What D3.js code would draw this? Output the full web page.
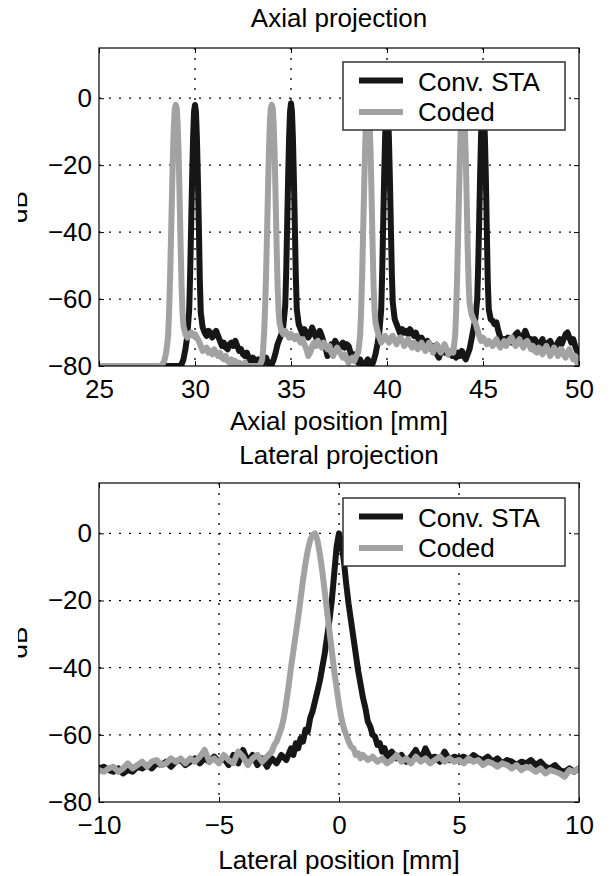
<!DOCTYPE html>
<html>
<head>
<meta charset="utf-8">
<script src="https://cdn.jsdelivr.net/npm/d3@7"></script>
<style>
  html, body { margin: 0; padding: 0; background: #fff; }
  svg { display: block; font-family: "Liberation Sans", Arial, Helvetica, sans-serif; }
</style>
</head>
<body>
<div id="chart"></div>
<script>
// ---- data: [position mm, level dB] ----
const axialConv = [
  [25,-80],[29.2,-80],[29.3,-79.5],[29.4,-78],[29.5,-75],[29.6,-71],[29.7,-63],[29.75,-52],[29.8,-38],[29.85,-24],[29.9,-12],[29.95,-4],[30,-2],[30.05,-4],[30.1,-12],[30.15,-24],[30.2,-38],[30.25,-54],[30.3,-64],[30.4,-68.5],
  [30.5,-70],[30.6,-71],[30.7,-69.5],[30.8,-70],[30.9,-71.5],[31,-70.5],[31.1,-69.5],[31.2,-71],[31.3,-72.5],[31.4,-74],[31.5,-73],[31.6,-74.5],[31.7,-75],[31.8,-73.5],[31.9,-73],[32,-74],[32.1,-72.5],[32.2,-74],[32.3,-75.5],[32.4,-75],
  [32.5,-76.5],[32.6,-77],[32.7,-76],[32.8,-77.5],[32.9,-78.5],[33,-77.5],[33.1,-78],[33.2,-79],[33.3,-78],[33.4,-79.5],[33.5,-80],[33.6,-78.5],[33.7,-77.5],[33.8,-79],[33.9,-80],[34,-79.5],[34.1,-78],[34.2,-76],[34.3,-73.5],[34.4,-72],
  [34.5,-70.5],[34.6,-68],[34.7,-62],[34.75,-52],[34.8,-38],[34.85,-24],[34.9,-12],[34.95,-4],[35,-1.5],[35.05,-4],[35.1,-12],[35.15,-24],[35.2,-38],[35.25,-53],[35.3,-63],[35.4,-67.5],[35.5,-69],[35.6,-70.5],[35.7,-69],[35.8,-70],
  [35.9,-71.5],[36,-70.5],[36.1,-68.5],[36.2,-70],[36.3,-71.5],[36.4,-70.5],[36.5,-69.5],[36.6,-71],[36.7,-73],[36.8,-74.5],[36.9,-77],[37,-75],[37.1,-73.5],[37.2,-74],[37.3,-72.5],[37.4,-73.5],[37.5,-75],[37.6,-74],[37.7,-73],[37.8,-74.5],
  [37.9,-73.5],[38,-74],[38.1,-76],[38.2,-77.5],[38.3,-76.5],[38.4,-78],[38.5,-79],[38.6,-78],[38.7,-79.5],[38.8,-80],[38.9,-79],[39,-78],[39.1,-79.5],[39.2,-80],[39.3,-78.5],[39.4,-76.5],[39.5,-73.5],[39.6,-70],[39.7,-63],[39.75,-52],
  [39.8,-38],[39.85,-24],[39.9,-12],[39.95,-4],[40,-2],[40.05,-4],[40.1,-12],[40.15,-24],[40.2,-38],[40.25,-52],[40.3,-61],[40.4,-66],[40.5,-67.5],[40.6,-69],[40.7,-70.5],[40.8,-69],[40.9,-70],[41,-69.5],[41.1,-70.5],[41.2,-69],
  [41.3,-70],[41.4,-71],[41.5,-70],[41.6,-71.5],[41.7,-72.5],[41.8,-71.5],[41.9,-73],[42,-74],[42.1,-72.5],[42.2,-73.5],[42.3,-75],[42.4,-74],[42.5,-75.5],[42.6,-76.5],[42.7,-77.5],[42.8,-76],[42.9,-75],[43,-76],[43.1,-75],[43.2,-76.5],
  [43.3,-75.5],[43.4,-77],[43.5,-76],[43.6,-77.5],[43.7,-76],[43.8,-77],[43.9,-75.5],[44,-77],[44.1,-78],[44.2,-76.5],[44.3,-75],[44.4,-72],[44.5,-69],[44.6,-66],[44.7,-60],[44.75,-50],[44.8,-37],[44.85,-23],[44.9,-11],[44.95,-4],
  [45,-2],[45.05,-4],[45.1,-12],[45.15,-24],[45.2,-40],[45.25,-55],[45.3,-63],[45.4,-66],[45.5,-66.5],[45.6,-67.5],[45.7,-67],[45.8,-69.5],[45.9,-71.5],[46,-72.5],[46.1,-72],[46.2,-73],[46.3,-71.5],[46.4,-72.5],[46.5,-73],[46.6,-71.5],
  [46.7,-70.5],[46.8,-70],[46.9,-71.5],[47,-72],[47.1,-71],[47.2,-69.5],[47.3,-71],[47.4,-72.5],[47.5,-72],[47.6,-73.5],[47.7,-72],[47.8,-73],[47.9,-74.5],[48,-73],[48.1,-72],[48.2,-74],[48.3,-75],[48.4,-73],[48.5,-72.5],[48.6,-74],
  [48.7,-75.5],[48.8,-74],[48.9,-73],[49,-72],[49.1,-73.5],[49.2,-72],[49.3,-70.5],[49.4,-70],[49.5,-71.5],[49.6,-73],[49.7,-72],[49.8,-74],[49.9,-75.5],[50,-76]
];

const axialCoded = [
  [25,-80],[28.2,-80],[28.3,-79.5],[28.4,-78.5],[28.5,-76],[28.6,-71],[28.65,-64],[28.7,-54],[28.75,-42],[28.8,-29],[28.85,-17],[28.9,-8],[28.95,-3],[29,-2],[29.05,-3],[29.1,-8],[29.15,-17],[29.2,-30],[29.25,-44],[29.3,-56],
  [29.35,-64],[29.4,-68],[29.5,-70.5],[29.6,-71.5],[29.7,-70.5],[29.8,-70],[29.9,-71],[30,-70.5],[30.1,-71.5],[30.2,-72.5],[30.3,-74],[30.4,-75.5],[30.5,-75],[30.6,-74.5],[30.7,-76],[30.8,-75.5],[30.9,-76.5],[31,-75],[31.1,-76],[31.2,-77],
  [31.3,-76],[31.4,-77.5],[31.5,-78],[31.6,-77],[31.7,-78.5],[31.8,-79],[31.9,-78],[32,-79.5],[32.1,-78.5],[32.2,-80],[32.3,-79],[32.4,-79.5],[32.5,-80],[32.6,-79],[32.7,-80],[33.3,-80],[33.4,-79.5],[33.5,-78],[33.55,-75],[33.6,-70],
  [33.65,-63],[33.7,-53],[33.75,-41],[33.8,-28],[33.85,-16],[33.9,-7],[33.95,-3],[34,-2],[34.05,-3],[34.1,-8],[34.15,-17],[34.2,-30],[34.25,-44],[34.3,-56],[34.35,-63],[34.4,-67],[34.5,-69.5],[34.6,-70.5],[34.7,-69.5],[34.8,-70.5],
  [34.9,-71.5],[35,-70.5],[35.1,-71],[35.2,-72],[35.3,-71],[35.4,-72],[35.5,-73],[35.6,-72],[35.7,-73.5],[35.8,-75],[35.9,-77],[36,-76],[36.1,-74],[36.2,-73],[36.3,-74],[36.4,-72.5],[36.5,-73.5],[36.6,-74.5],[36.7,-73],[36.8,-74],
  [36.9,-75],[37,-74],[37.1,-76],[37.2,-77],[37.3,-75.5],[37.4,-74.5],[37.5,-75.5],[37.6,-76.5],[37.7,-77.5],[37.8,-76.5],[37.9,-78],[38,-79],[38.1,-78],[38.2,-77.5],[38.3,-78.5],[38.4,-77],[38.5,-76],[38.6,-71],[38.65,-64],[38.7,-54],
  [38.75,-42],[38.8,-29],[38.85,-17],[38.9,-8],[38.95,-3],[39,-2],[39.05,-3],[39.1,-8],[39.15,-17],[39.2,-30],[39.25,-44],[39.3,-56],[39.35,-63],[39.4,-67],[39.5,-69.5],[39.6,-71.5],[39.7,-73],[39.8,-72],[39.9,-71],[40,-72],
  [40.1,-73],[40.2,-71.5],[40.3,-71],[40.4,-72.5],[40.5,-73.5],[40.6,-72],[40.7,-71.5],[40.8,-72.5],[40.9,-74],[41,-73],[41.1,-72],[41.2,-73.5],[41.3,-74.5],[41.4,-73],[41.5,-73.5],[41.6,-75],[41.7,-74],[41.8,-73],[41.9,-74.5],[42,-75.5],
  [42.1,-74],[42.2,-73],[42.3,-74.5],[42.4,-76],[42.5,-74.5],[42.6,-73.5],[42.7,-75],[42.8,-76],[42.9,-74.5],[43,-73.5],[43.1,-75],[43.2,-76.5],[43.3,-75.5],[43.45,-76],[43.55,-71],[43.6,-64],[43.65,-54],[43.7,-42],[43.75,-29],[43.8,-17],
  [43.85,-8],[43.9,-3],[43.95,-2],[44,-3],[44.05,-8],[44.1,-17],[44.15,-30],[44.2,-44],[44.25,-55],[44.3,-61],[44.4,-64.5],[44.5,-66],[44.6,-67],[44.7,-69],[44.8,-71],[44.9,-72.5],[45,-71.5],[45.1,-72.5],[45.2,-73.5],[45.3,-72.5],
  [45.4,-73],[45.5,-74],[45.6,-73],[45.7,-72],[45.8,-73.5],[45.9,-74.5],[46,-73.5],[46.1,-72.5],[46.2,-74],[46.3,-73],[46.4,-72],[46.5,-71.5],[46.6,-73],[46.7,-74],[46.8,-73],[46.9,-72],[47,-73.5],[47.1,-74.5],[47.2,-73],[47.3,-72.5],
  [47.4,-73.5],[47.5,-75],[47.6,-74],[47.7,-75.5],[47.8,-76],[47.9,-74.5],[48,-75],[48.1,-76.5],[48.2,-75],[48.3,-74],[48.4,-75.5],[48.5,-77],[48.6,-76],[48.7,-74.5],[48.8,-75.5],[48.9,-77],[49,-76],[49.1,-75],[49.2,-76.5],[49.3,-77.5],
  [49.4,-76],[49.5,-75],[49.6,-76.5],[49.7,-78],[49.8,-77],[49.9,-79],[50,-80]
];

const lateralConv = [
  [-10,-70],[-9.8,-69.5],[-9.6,-70.5],[-9.4,-71],[-9.2,-70],[-9,-71.5],[-8.8,-70.5],[-8.6,-71],[-8.4,-69.5],[-8.2,-70],[-8,-69],[-7.8,-70],[-7.6,-68.5],[-7.4,-69],[-7.2,-68],[-7,-69.5],[-6.8,-68],[-6.6,-67.5],[-6.4,-69],[-6.2,-68],
  [-6,-67],[-5.8,-68.5],[-5.6,-67],[-5.4,-68],[-5.2,-66.5],[-5,-68],[-4.8,-67],[-4.6,-69],[-4.4,-66],[-4.2,-68.5],[-4,-64.5],[-3.8,-68],[-3.6,-66],[-3.4,-69],[-3.2,-67],[-3,-69.5],[-2.8,-67],[-2.6,-68.5],[-2.4,-66],[-2.2,-67.5],
  [-2,-64],[-1.9,-66],[-1.8,-62.5],[-1.7,-64],[-1.6,-61],[-1.5,-62],[-1.4,-58.5],[-1.3,-59],[-1.2,-55],[-1.1,-53],[-1,-50],[-0.9,-47],[-0.8,-44],[-0.7,-40],[-0.6,-36],[-0.5,-31],[-0.4,-26],[-0.3,-20],[-0.2,-12],[-0.1,-4],
  [0,0],[0.1,-3],[0.2,-8],[0.3,-15],[0.4,-21],[0.5,-26],[0.6,-31],[0.7,-36],[0.8,-41],[0.9,-45],[1,-49],[1.1,-52],[1.2,-56],[1.3,-57.5],[1.4,-60],[1.5,-60.5],[1.6,-63],[1.7,-62.5],[1.8,-65],[1.9,-64],
  [2,-66.5],[2.2,-65],[2.4,-67],[2.6,-66],[2.8,-68],[3,-66.5],[3.2,-64.5],[3.4,-67.5],[3.6,-64],[3.8,-67],[4,-66.5],[4.2,-68],[4.4,-65],[4.6,-67.5],[4.8,-66.5],[5,-67],[5.2,-66.5],[5.4,-67.5],[5.6,-66],[5.8,-67],
  [6,-67.5],[6.2,-66.5],[6.4,-68],[6.6,-67],[6.8,-68.5],[7,-67.5],[7.2,-68],[7.4,-69],[7.6,-68],[7.8,-68.5],[8,-67.5],[8.2,-69],[8.4,-68],[8.6,-69.5],[8.8,-70],[9,-69],[9.2,-70.5],[9.4,-71],[9.6,-70],[9.8,-71],[10,-70]
];

const lateralCoded = [
  [-10,-70.5],[-9.8,-71],[-9.6,-70],[-9.4,-69.5],[-9.2,-71],[-9,-70],[-8.8,-68.5],[-8.6,-70],[-8.4,-69],[-8.2,-68],[-8,-69.5],[-7.8,-68],[-7.6,-67.5],[-7.4,-69],[-7.2,-68.5],[-7,-67],[-6.8,-68],[-6.6,-67],[-6.4,-68.5],[-6.2,-67],
  [-6,-68],[-5.8,-66.5],[-5.6,-64.5],[-5.4,-68],[-5.2,-67],[-5,-68.5],[-4.8,-66],[-4.6,-67.5],[-4.4,-68.5],[-4.2,-65],[-4,-66.5],[-3.8,-69],[-3.6,-67],[-3.4,-66],[-3.2,-68],[-3,-66.5],[-2.8,-65],[-2.7,-63],[-2.6,-62],[-2.5,-60],
  [-2.4,-58],[-2.3,-55],[-2.2,-50.5],[-2.1,-45.5],[-2,-40],[-1.9,-35],[-1.8,-30],[-1.7,-25],[-1.6,-19.5],[-1.5,-14],[-1.4,-9],[-1.3,-5],[-1.2,-2],[-1.1,-0.5],[-1,0],[-0.9,-2],[-0.8,-6],[-0.7,-11],[-0.6,-17],[-0.5,-23],
  [-0.4,-29],[-0.3,-35],[-0.2,-41],[-0.1,-46],[0,-51],[0.1,-55],[0.2,-58],[0.3,-60],[0.4,-62],[0.5,-63.5],[0.6,-64],[0.7,-66],[0.8,-65.5],[0.9,-67],[1,-66],[1.2,-67.5],[1.4,-66.5],[1.6,-68],[1.8,-67],[2,-68.5],
  [2.2,-67.5],[2.4,-66],[2.6,-68],[2.8,-67],[3,-68.5],[3.2,-66.5],[3.4,-68],[3.6,-67],[3.8,-68.5],[4,-67.5],[4.2,-66.5],[4.4,-68],[4.6,-67],[4.8,-68],[5,-67.5],[5.2,-68.5],[5.4,-67],[5.6,-68],[5.8,-67.5],[6,-69],
  [6.2,-68],[6.4,-68.5],[6.6,-69.5],[6.8,-68.5],[7,-69],[7.2,-70],[7.4,-69],[7.6,-70.5],[7.8,-69.5],[8,-70],[8.2,-71],[8.4,-70],[8.6,-71.5],[8.8,-70.5],[9,-71],[9.2,-71.5],[9.4,-72.5],[9.6,-70.5],[9.8,-71],[10,-70]
];

const dbTicks = [-80, -60, -40, -20, 0];
const axialTicks = [25, 30, 35, 40, 45, 50];
const lateralTicks = [-10, -5, 0, 5, 10];
const legendNames = ["Conv. STA", "Coded"];
const lineColors = ["#161616", "#a2a2a2"];

// ---- layout ----
const W = 613, H = 876;
const boxLeft = 99, boxRight = 579;
const fontSize = 26;

const svg = d3.select("#chart").append("svg")
  .attr("width", W)
  .attr("height", H);

function drawPanel(p) {
  const x = d3.scaleLinear().domain(p.xDomain).range([boxLeft, boxRight]);
  const y = d3.scaleLinear().domain([-80, 15]).range([p.bottom, p.top]);
  const g = svg.append("g");

  // clip to the axes box
  g.append("clipPath").attr("id", p.id + "-clip")
    .append("rect")
    .attr("x", boxLeft).attr("y", p.top)
    .attr("width", boxRight - boxLeft).attr("height", p.bottom - p.top);

  // dotted grid
  g.selectAll(".vgrid")
    .data(p.xTicks.slice(1, -1))
    .enter().append("line")
    .attr("x1", d => x(d)).attr("x2", d => x(d))
    .attr("y1", p.top).attr("y2", p.bottom)
    .attr("stroke", "#000").attr("stroke-width", 1.3)
    .attr("stroke-dasharray", "2,8");

  g.selectAll(".hgrid")
    .data(dbTicks.slice(1))
    .enter().append("line")
    .attr("x1", boxLeft).attr("x2", boxRight)
    .attr("y1", d => y(d)).attr("y2", d => y(d))
    .attr("stroke", "#000").attr("stroke-width", 1.3)
    .attr("stroke-dasharray", "2,8");

  // curves
  const line = d3.line().x(d => x(d[0])).y(d => y(d[1]));
  const lines = g.append("g").attr("clip-path", "url(#" + p.id + "-clip)");
  p.series.forEach((s, i) => {
    lines.append("path")
      .datum(s)
      .attr("fill", "none")
      .attr("stroke", lineColors[i])
      .attr("stroke-width", 6)
      .attr("stroke-linejoin", "round")
      .attr("stroke-linecap", "round")
      .attr("d", line);
  });

  // axes: labels outside, ticks inside
  const bottomAxis = g.append("g")
    .attr("transform", "translate(0," + p.bottom + ")")
    .call(d3.axisBottom(x).tickValues(p.xTicks).tickSizeInner(-5).tickSizeOuter(0).tickPadding(14));
  const topAxis = g.append("g")
    .attr("transform", "translate(0," + p.top + ")")
    .call(d3.axisTop(x).tickValues(p.xTicks).tickSizeInner(-5).tickSizeOuter(0).tickFormat(""));
  const leftAxis = g.append("g")
    .attr("transform", "translate(" + boxLeft + ",0)")
    .call(d3.axisLeft(y).tickValues(dbTicks).tickSizeInner(-5).tickSizeOuter(0).tickPadding(7));
  const rightAxis = g.append("g")
    .attr("transform", "translate(" + boxRight + ",0)")
    .call(d3.axisRight(y).tickValues(dbTicks).tickSizeInner(-5).tickSizeOuter(0).tickFormat(""));

  [bottomAxis, topAxis, leftAxis, rightAxis].forEach(a => {
    a.select(".domain").remove();
    a.attr("font-family", null).attr("font-size", fontSize);
    a.selectAll("line").attr("stroke", "#000");
    a.selectAll("text").attr("fill", "#000");
  });

  // box
  g.append("rect")
    .attr("x", boxLeft).attr("y", p.top)
    .attr("width", boxRight - boxLeft).attr("height", p.bottom - p.top)
    .attr("fill", "none").attr("stroke", "#000").attr("stroke-width", 1.2);

  // legend
  const lg = g.append("g").attr("transform", "translate(343," + p.legendTop + ")");
  lg.append("rect")
    .attr("width", 222).attr("height", 68)
    .attr("fill", "#fff").attr("stroke", "#333").attr("stroke-width", 1.5);
  legendNames.forEach((name, i) => {
    lg.append("line")
      .attr("x1", 16).attr("x2", 60)
      .attr("y1", 18.5 + i * 31.5).attr("y2", 18.5 + i * 31.5)
      .attr("stroke", lineColors[i]).attr("stroke-width", 6);
    lg.append("text")
      .attr("x", 75).attr("y", 28.5 + i * 30.5)
      .attr("font-size", fontSize)
      .text(name);
  });

  // titles and labels
  g.append("text")
    .attr("x", (boxLeft + boxRight) / 2).attr("y", p.titleY)
    .attr("text-anchor", "middle").attr("font-size", fontSize)
    .text(p.title);
  g.append("text")
    .attr("x", (boxLeft + boxRight) / 2).attr("y", p.xlabelY)
    .attr("text-anchor", "middle").attr("font-size", fontSize)
    .text(p.xlabel);
  g.append("text")
    .attr("transform", "translate(27," + (p.top + p.bottom) / 2 + ") rotate(-90)")
    .attr("text-anchor", "middle").attr("font-size", fontSize)
    .text("dB");
}

drawPanel({
  id: "axial", top: 48, bottom: 366,
  xDomain: [25, 50], xTicks: axialTicks,
  series: [axialConv, axialCoded],
  title: "Axial projection", titleY: 27,
  xlabel: "Axial position [mm]", xlabelY: 430,
  legendTop: 62
});

drawPanel({
  id: "lateral", top: 483, bottom: 802,
  xDomain: [-10, 10], xTicks: lateralTicks,
  series: [lateralConv, lateralCoded],
  title: "Lateral projection", titleY: 464,
  xlabel: "Lateral position [mm]", xlabelY: 869,
  legendTop: 498
});

// the left strip of the original figure is cut off, hiding half of the "dB" labels
svg.append("rect")
  .attr("x", 0).attr("y", 0)
  .attr("width", 18).attr("height", H)
  .attr("fill", "#fff");
</script>
</body>
</html>
